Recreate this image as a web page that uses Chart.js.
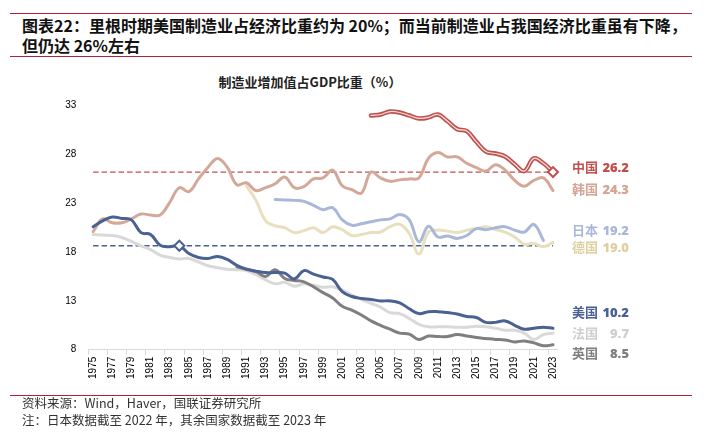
<!DOCTYPE html>
<html>
<head>
<meta charset="utf-8">
<script src="https://cdn.jsdelivr.net/npm/chart.js@4"></script>
<style>
body{margin:0;background:#fff;}
#page{position:relative;width:706px;height:436px;overflow:hidden;font-family:"Noto Sans CJK SC",sans-serif;}
.rule{position:absolute;left:10px;width:682px;height:0;border-top:1.5px solid #b3203a;}
.title{position:absolute;left:22px;font-size:16px;font-weight:700;color:#111;line-height:20px;white-space:nowrap;}
#ctitle{position:absolute;left:0;width:620px;text-align:center;top:73px;font-size:13px;font-weight:700;color:#222;line-height:18px;}
.note{position:absolute;left:22px;font-size:12.5px;color:#333;line-height:16px;white-space:nowrap;}
.tag{position:absolute;left:572px;width:57px;display:flex;justify-content:space-between;font-size:13px;font-weight:700;line-height:16px;}
.tag b{font-family:"Noto Sans",sans-serif;}
#wrap{position:absolute;left:0;top:0;width:706px;height:436px;}
</style>
</head>
<body>
<div id="page">
  <div class="rule" style="top:13px"></div>
  <div class="title" style="top:15px">图表22：里根时期美国制造业占经济比重约为 20%；而当前制造业占我国经济比重虽有下降，</div>
  <div class="title" style="top:35px">但仍达 26%左右</div>
  <div class="rule" style="top:56px"></div>
  <div id="ctitle">制造业增加值占GDP比重（%）</div>
  <div id="wrap"><canvas id="grafico"></canvas></div>
  <div class="rule" style="top:395px"></div>
  <div class="note" style="top:395px">资料来源：Wind，Haver，国联证券研究所</div>
  <div class="note" style="top:412px">注：日本数据截至 2022 年，其余国家数据截至 2023 年</div>
</div>
<script>
// 年份
const anios = ['1975','1976','1977','1978','1979','1980','1981','1982','1983','1984',
  '1985','1986','1987','1988','1989','1990','1991','1992','1993','1994',
  '1995','1996','1997','1998','1999','2000','2001','2002','2003','2004',
  '2005','2006','2007','2008','2009','2010','2011','2012','2013','2014',
  '2015','2016','2017','2018','2019','2020','2021','2022','2023'];

const N = null;
const china = [N,N,N,N,N,N,N,N,N,N, N,N,N,N,N,N,N,N,N,N, N,N,N,N,N,N,N,N,N,
  32.0,32.1,32.4,32.3,32.0,31.7,31.8,32.1,31.4,30.6,30.4,
  29.3,28.3,28.1,27.8,27.0,26.3,27.6,27.1,26.2];
const korea = [20.1,21.4,21.0,21.0,21.4,21.9,21.8,21.8,23.1,24.6,
  24.2,25.5,26.7,27.6,26.7,24.9,25.1,24.3,24.6,25.0,
  25.7,24.6,24.7,25.5,25.6,26.4,24.8,24.4,24.05,26.2,
  25.6,25.25,25.4,25.5,25.6,27.6,28.2,27.75,27.75,27.1,
  26.65,26.3,26.95,26.4,25.35,24.75,25.35,25.6,24.3];
const japan = [N,N,N,N,N,N,N,N,N,N, N,N,N,N,N,N,N,N,N,
  23.4,23.35,23.3,23.2,22.8,22.35,22.55,21.3,20.75,20.9,21.1,
  21.3,21.4,21.85,21.3,19.05,20.65,19.55,19.65,19.4,19.7,
  20.4,20.3,20.5,20.6,20.25,20.05,20.85,19.2,N];
const germany = [N,N,N,N,N,N,N,N,N,N, N,N,N,N,N,N,
  24.8,23.3,21.2,20.7,20.5,20.0,20.2,20.5,20.0,20.6,
  20.3,19.7,19.8,20.0,20.05,20.6,20.85,19.9,17.8,20.05,
  20.25,20.15,20.0,20.25,20.4,20.6,20.3,20.05,19.55,18.8,
  18.9,18.55,19.0];
const usa = [20.6,21.2,21.6,21.45,21.3,20.0,19.8,18.7,18.55,18.65,
  17.85,17.45,17.35,17.55,17.25,16.65,16.25,16.05,15.9,15.9,
  15.85,15.25,16.1,15.75,15.45,15.2,13.95,13.45,13.25,13.15,
  13.0,13.0,12.8,12.2,11.7,11.9,11.9,11.8,11.65,11.4,
  11.3,10.8,10.8,10.95,10.5,10.1,10.2,10.3,10.2];
const france = [19.8,19.75,19.7,19.5,19.1,18.65,18.25,17.7,17.45,17.3,
  17.35,17.0,16.6,16.4,16.25,16.2,16.1,15.7,15.15,14.75,
  14.9,14.5,14.75,14.6,14.4,14.45,14.1,13.6,13.15,12.75,
  12.35,11.8,11.7,11.2,10.6,10.35,10.35,10.35,10.3,10.3,
  10.4,10.35,10.2,10.0,10.0,9.7,9.05,9.55,9.7];
const uk = [N,N,N,N,N,N,N,N,N,N, N,N,N,N,N,
  16.5,16.25,16.0,15.5,16.2,15.3,15.1,14.95,14.45,13.85,
  13.3,12.45,12.05,11.55,10.95,10.5,10.1,9.7,9.6,9.05,
  9.4,9.35,9.35,9.55,9.4,9.25,9.15,9.05,9.0,8.8,
  8.9,8.7,8.4,8.5];

// 参考线
const lineaChina = 26.2;
const lineaUsa = 18.65;
const yTicks = [8, 13, 18, 23, 28, 33];

const rojo = '#c0504d';
const azul = '#4a6193';

function ultimo(arr){
  for (let i = arr.length - 1; i >= 0; i--) if (arr[i] !== null) return arr[i];
}

// etiquetas a la derecha
const etiquetas = [
  {nombre:'中国', serie:china, color:rojo, top:159},
  {nombre:'韩国', serie:korea, color:'#d3a595', top:181},
  {nombre:'日本', serie:japan, color:'#a9b8d9', top:222},
  {nombre:'德国', serie:germany, color:'#ded0a0', top:239},
  {nombre:'美国', serie:usa, color:azul, top:304},
  {nombre:'法国', serie:france, color:'#cfcfcf', top:325},
  {nombre:'英国', serie:uk, color:'#7f7f7f', top:345}
];
etiquetas.forEach(e => {
  const d = document.createElement('div');
  d.className = 'tag';
  d.style.top = e.top + 'px';
  d.style.color = e.color;
  d.innerHTML = `<span>${e.nombre}</span><b>${ultimo(e.serie).toFixed(1)}</b>`;
  document.getElementById('page').appendChild(d);
});

function linea(data, color, width, order){
  return {data, borderColor:color, borderWidth:width, order, pointRadius:0,
    tension:0.4, borderCapStyle:'round', borderJoinStyle:'round', fill:false, spanGaps:false};
}

const ctx = document.querySelector('#grafico');
const myChart = new Chart(ctx, {
  type: 'line',
  data: {
    labels: anios,
    datasets: [
      {data:[{x:'1975', y:lineaChina},{x:'2023', y:lineaChina}], borderColor:rojo, borderWidth:1.3,
        borderDash:[5.5,3], pointRadius:0, order:20},
      {data:[{x:'1975', y:lineaUsa},{x:'2023', y:lineaUsa}], borderColor:azul, borderWidth:1.3,
        borderDash:[5.5,3], pointRadius:0, order:21},
      linea(germany, '#e8dfbf', 3, 9),
      linea(france, '#d9d9d9', 3, 8),
      linea(japan, '#a9b8d9', 3, 7),
      linea(korea, '#d4a898', 3, 6),
      linea(uk, '#7f7f7f', 3, 5),
      Object.assign(linea(usa, azul, 3, 4), {
        pointRadius: c => anios[c.dataIndex] === '1984' ? 5 : 0,
        pointStyle:'rectRot', pointBackgroundColor:'#fff', pointBorderColor:azul, pointBorderWidth:2
      }),
      linea(china, rojo, 4.5, 2),
      Object.assign(linea(china, '#f6e0df', 1.2, 1), {
        pointRadius: c => anios[c.dataIndex] === '2023' ? 5 : 0,
        pointStyle:'rectRot', pointBackgroundColor:'#fff', pointBorderColor:rojo, pointBorderWidth:2
      })
    ]
  },
  options: {
    responsive:true,
    maintainAspectRatio:false,
    animation:false,
    layout:{padding:{left:58.3, top:105.7, right:148.2, bottom:46.3}},
    plugins:{legend:{display:false}, tooltip:{enabled:false}},
    scales:{
      x:{
        offset:true,
        afterFit: s => { s.height = 40; },
        border:{color:'#d9d9d9', width:1},
        grid:{drawOnChartArea:false, drawTicks:true, tickLength:5, offset:true,
          color: c => c.index % 2 === 0 ? '#d9d9d9' : 'rgba(0,0,0,0)'},
        ticks:{autoSkip:false, minRotation:90, maxRotation:90, padding:2, color:'#000',
          font:{family:'Liberation Sans', size:10},
          callback: function(v, i){ return i % 2 === 0 ? this.getLabelForValue(v) : ''; }}
      },
      y:{
        min:8, max:33,
        afterFit: s => { s.width = 30; },
        afterBuildTicks: s => { s.ticks = yTicks.map(v => ({value:v})); },
        border:{display:false},
        grid:{display:false, drawTicks:false},
        ticks:{padding:12, color:'#000', font:{family:'Liberation Sans', size:10}}
      }
    }
  }
});
</script>
</body>
</html>
